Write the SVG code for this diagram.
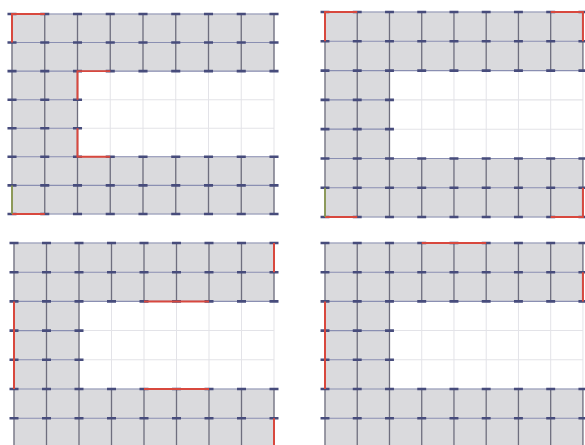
<svg xmlns="http://www.w3.org/2000/svg" width="585" height="445" viewBox="0 0 585 445">
<style>
.lg{stroke:#e3e3e8;stroke-width:1;fill:none}
.fill{fill:#dadadd;stroke:none}
.vl{stroke:#6e6e7e;stroke-width:1.3;fill:none}
.hl{stroke:#8a8fb2;stroke-width:1.1;fill:none}
.tk{stroke:#474c7c;stroke-width:2.6;fill:none}
.red{stroke:#d8483e;stroke-width:2;fill:none}
.grn{stroke:#8a9a48;stroke-width:1.6;fill:none}
</style>
<defs>
<g id="panel">
<path class="lg" d="M0,0V203M32.5,0V203M65,0V203M97.5,0V203M130,0V203M162.5,0V203M195,0V203M227.5,0V203M260,0V203M0,0H260M0,29H260M0,58H260M0,87H260M0,116H260M0,145H260M0,174H260M0,203H260"/>
<path class="fill" d="M0,0H260V58H65V145H260V203H0Z"/>
<path class="vl" d="M0,0V203M32.5,0V203M65,0V203M97.5,0V58M130,0V58M162.5,0V58M195,0V58M227.5,0V58M260,0V58M97.5,145V203M130,145V203M162.5,145V203M195,145V203M227.5,145V203M260,145V203"/>
<path class="hl" d="M0,0H260M0,29H260M0,58H260M0,87H65M0,116H65M0,145H260M0,174H260M0,203H260"/>
<path class="tk" d="M-4.5,0h9M28,0h9M60.5,0h9M93,0h9M125.5,0h9M158,0h9M190.5,0h9M223,0h9M255.5,0h9
M-4.5,29h9M28,29h9M60.5,29h9M93,29h9M125.5,29h9M158,29h9M190.5,29h9M223,29h9M255.5,29h9
M-4.5,58h9M28,58h9M60.5,58h9M93,58h9M125.5,58h9M158,58h9M190.5,58h9M223,58h9M255.5,58h9
M-4.5,87h9M28,87h9M60.5,87h9
M-4.5,116h9M28,116h9M60.5,116h9
M-4.5,145h9M28,145h9M60.5,145h9M93,145h9M125.5,145h9M158,145h9M190.5,145h9M223,145h9M255.5,145h9
M-4.5,174h9M28,174h9M60.5,174h9M93,174h9M125.5,174h9M158,174h9M190.5,174h9M223,174h9M255.5,174h9
M-4.5,203h9M28,203h9M60.5,203h9M93,203h9M125.5,203h9M158,203h9M190.5,203h9M223,203h9M255.5,203h9"/>
</g>
</defs>
<g id="panel-top-left" transform="translate(12,14) scale(1.0077,0.985)">
<use href="#panel"/>
<path class="red" d="M0,29V0H32.5M65,87V58H97.5M65,116V145H97.5M0,203H32.5"/>
<path class="grn" d="M0,174V203"/>
</g>
<g id="panel-top-right" transform="translate(325,12) scale(0.992,1.01)">
<use href="#panel"/>
<path class="red" d="M0,29V0H32.5M227.5,0H260V29M0,203H32.5M227.5,203H260V174"/>
<path class="grn" d="M0,174V203"/>
</g>
<g id="panel-bottom-left" transform="translate(14,243) scale(1,1.007)">
<use href="#panel"/>
<path class="red" d="M0,58V145M260,0V29M260,174V203M130,58H195M130,145H195"/>
</g>
<g id="panel-bottom-right" transform="translate(325,243) scale(0.992,1.007)">
<use href="#panel"/>
<path class="red" d="M0,58V145M97.5,0H162.5M260,29V58M97.5,203H162.5"/>
</g>
</svg>
